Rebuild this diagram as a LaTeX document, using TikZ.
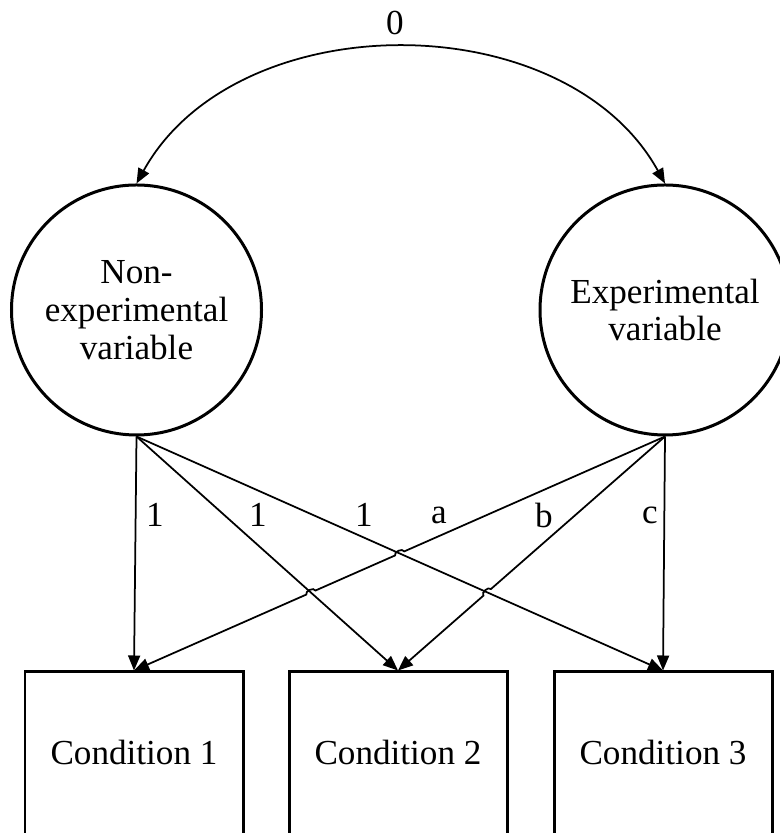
\documentclass[tikz,border=0pt]{standalone}
\usepackage{fontspec}
\setmainfont{Liberation Serif}
\usepackage{tikz}
\usetikzlibrary{arrows.meta,positioning,calc}

\begin{document}
\begin{tikzpicture}[
    >={Triangle[length=0.3cm,width=0.24cm]},
    font=\fontsize{20}{21.5}\selectfont,
    varnode/.style={draw, circle, line width=0.06cm, minimum size=5cm, inner sep=0pt, align=center},
    condnode/.style={draw, rectangle, line width=0.06cm, minimum width=4.36cm, minimum height=3.4cm, text depth=0.2cm},
    link/.style={line width=0.035cm},
    lbl/.style={inner sep=0pt}
  ]
  \useasboundingbox (0,0) rectangle (15.58,16.66);

  % latente Variablen
  \node[varnode] (nonexp) at (2.73,10.46) {Non-\\experimental\\variable};
  \node[varnode] (exp) at (13.30,10.46) {Experimental\\variable};

  % Bedingungen
  \node[condnode] (cond1) at (2.68,1.52) {Condition 1};
  \node[condnode] (cond2) at (7.96,1.52) {Condition 2};
  \node[condnode] (cond3) at (13.26,1.52) {Condition 3};

  % Kovarianz
  \draw[link,<->] (nonexp.north) to[bend left=61] (exp.north);
  \node[lbl] (zero) at (7.9,16.2) {0};

  % Kreuzungspunkte
  \coordinate (x1) at (intersection of nonexp.south--cond3.north and exp.south--cond1.north);
  \coordinate (x2) at (intersection of nonexp.south--cond2.north and exp.south--cond1.north);
  \coordinate (x3) at (intersection of nonexp.south--cond3.north and exp.south--cond2.north);

  \draw[link,->] (nonexp.south) -- (cond1.north);
  \draw[link,->] (nonexp.south) -- (cond2.north);
  \draw[link,->] (nonexp.south) -- (cond3.north);

  \draw[link,->] (exp.south) -- ($(x1)!0.1cm!(exp.south)$) to[bend right=90] ($(x1)!0.1cm!(cond1.north)$)
    -- ($(x2)!0.1cm!(exp.south)$) to[bend right=90] ($(x2)!0.1cm!(cond1.north)$) -- (cond1.north);
  \draw[link,->] (exp.south) -- ($(x3)!0.1cm!(exp.south)$) to[bend right=90] ($(x3)!0.1cm!(cond2.north)$) -- (cond2.north);
  \draw[link,->] (exp.south) -- (cond3.north);

  % Ladungen
  \node[lbl] (l1) at (3.10,6.36) {1};
  \node[lbl] (l2) at (5.16,6.36) {1};
  \node[lbl] (l3) at (7.28,6.36) {1};
  \node[lbl] (la) at (8.78,6.36) {a};
  \node[lbl] (lb) at (10.88,6.36) {b};
  \node[lbl] (lc) at (13.00,6.36) {c};
\end{tikzpicture}
\end{document}
